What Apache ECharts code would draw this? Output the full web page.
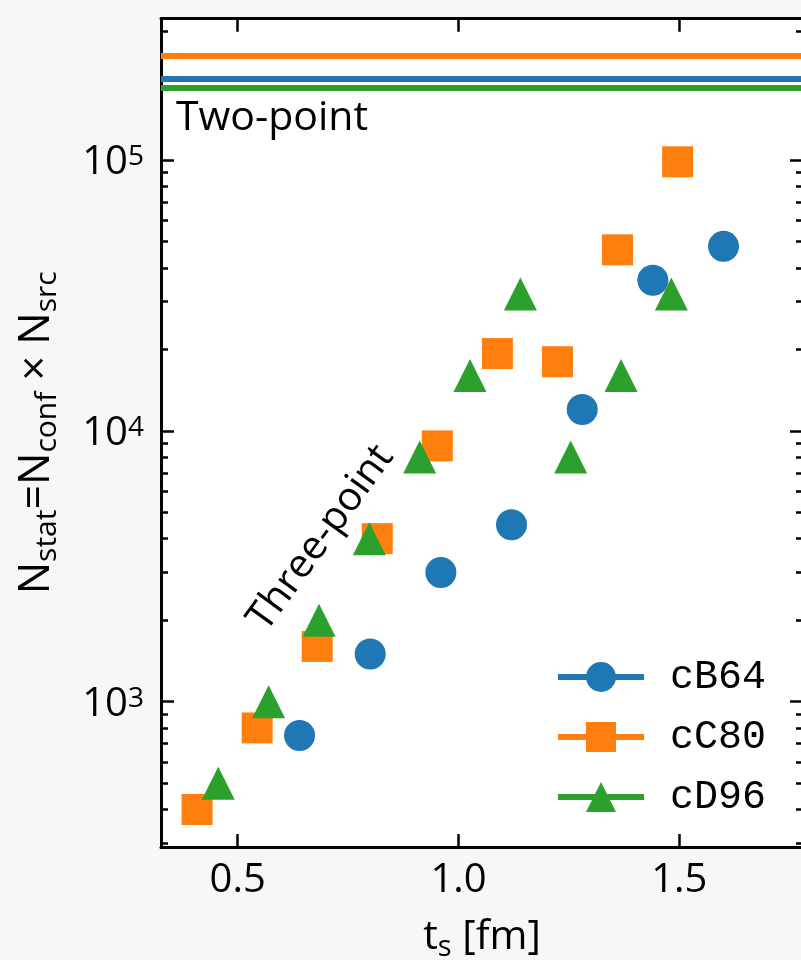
<!DOCTYPE html>
<html>
<head>
<meta charset="utf-8">
<script src="https://cdn.jsdelivr.net/npm/echarts@6/dist/echarts.min.js"></script>
<style>
  html, body { margin: 0; padding: 0; background: #f7f7f7; }
  #chart { width: 801px; height: 960px; }
</style>
</head>
<body>
<div id="chart"></div>
<script>
// Statistics needed per source separation, three ensembles.
const ensembles = ['cB64', 'cC80', 'cD96'];

const tsB64 = [0.64, 0.80, 0.96, 1.12, 1.28, 1.44, 1.60];
const nB64  = [750, 1500, 3000, 4500, 12000, 36000, 48000];

const tsC80 = [0.408, 0.544, 0.68, 0.816, 0.952, 1.088, 1.224, 1.36, 1.496];
const nC80  = [400, 800, 1600, 4000, 8800, 19300, 18000, 46600, 98500];

const tsD96 = [0.456, 0.57, 0.684, 0.798, 0.912, 1.026, 1.14, 1.254, 1.368, 1.482];
const nD96  = [500, 1000, 2000, 4000, 8000, 16000, 32000, 8000, 16000, 32000];

// Two-point statistics, one level per ensemble (cB64, cC80, cD96)
const twoPointN = [199000, 242000, 185000];

const xTicks = [0.5, 1.0, 1.5];
const yMajorTicks = [1e3, 1e4, 1e5];
const yMinorTicks = [300, 400, 500, 600, 700, 800, 900,
                     2000, 3000, 4000, 5000, 6000, 7000, 8000, 9000,
                     20000, 30000, 40000, 50000, 60000, 70000, 80000, 90000,
                     200000, 300000];

const X_MIN = 0.3263, X_MAX = 1.78;
const Y_MIN = 290.8, Y_MAX = 332500;

const colors = ['#1f77b4', '#ff7f0e', '#2ca02c'];
const symbols = ['circle', 'rect', 'triangle'];
const symbolSizes = [31, 31, 33];
const FONT = 'Open Sans';
const MONO = 'Liberation Mono';

const zip = (xs, ys) => xs.map((x, i) => [x, ys[i]]);
const seriesData = [zip(tsB64, nB64), zip(tsC80, nC80), zip(tsD96, nD96)];

const spine = { show: true, lineStyle: { color: '#000', width: 3 } };

function yAxisDef(position, values, len, showLine, showLabel) {
  return {
    type: 'log', logBase: 10, min: Y_MIN, max: Y_MAX, position: position,
    axisLine: showLine ? spine : { show: false },
    axisTick: { show: true, inside: true, length: len, customValues: values,
                lineStyle: { color: '#000', width: 2.5 } },
    axisLabel: showLabel ? {
      show: true, customValues: values, margin: 17,
      formatter: v => '{b|10}{s|' + Math.round(Math.log10(v)) + '}',
      rich: {
        b: { fontFamily: FONT, fontSize: 40, color: '#000', lineHeight: 40,
             padding: [3, 0, 0, 0], verticalAlign: 'top' },
        s: { fontFamily: FONT, fontSize: 28, color: '#000', lineHeight: 23,
             padding: [3, 0, 0, 0], verticalAlign: 'top' }
      }
    } : { show: false },
    splitLine: { show: false },
    minorTick: { show: false }
  };
}

const chart = echarts.init(document.getElementById('chart'), null, { renderer: 'canvas' });

const option = {
  animation: false,
  backgroundColor: '#f7f7f7',
  grid: { left: 161, top: 18.7, width: 642, height: 828.3, show: true,
          backgroundColor: '#ffffff', borderWidth: 0,
          containLabel: false, outerBoundsMode: 'none' },
  xAxis: [
    {
      type: 'value', min: X_MIN, max: X_MAX, position: 'bottom',
      axisLine: spine,
      axisTick: { show: true, inside: true, length: 13, customValues: xTicks,
                  lineStyle: { color: '#000', width: 2.5 } },
      axisLabel: { show: true, customValues: xTicks, margin: 14,
                   formatter: v => v.toFixed(1),
                   fontFamily: FONT, fontSize: 40, color: '#000' },
      splitLine: { show: false },
      name: '{n|t}{s|s}{n| [fm]}',
      nameLocation: 'middle', nameGap: 70,
      nameTextStyle: {
        rich: {
          n: { fontFamily: FONT, fontSize: 41, color: '#000', lineHeight: 41, verticalAlign: 'top' },
          s: { fontFamily: FONT, fontSize: 29, color: '#000', lineHeight: 29, padding: [16, 0, 0, 0], verticalAlign: 'top' }
        }
      }
    },
    {
      type: 'value', min: X_MIN, max: X_MAX, position: 'top',
      axisLine: spine,
      axisTick: { show: true, inside: true, length: 13, customValues: xTicks,
                  lineStyle: { color: '#000', width: 2.5 } },
      axisLabel: { show: false },
      splitLine: { show: false }
    }
  ],
  yAxis: [
    Object.assign(yAxisDef('left', yMajorTicks, 13, true, true), {
      name: '{n|N}{s|stat}{n|=N}{s|conf}{n| × N}{s|src}',
      nameLocation: 'middle', nameRotate: 90, nameGap: 103,
      nameTextStyle: {
        rich: {
          n: { fontFamily: FONT, fontSize: 43, color: '#000', lineHeight: 43, verticalAlign: 'top' },
          s: { fontFamily: FONT, fontSize: 30, color: '#000', lineHeight: 30, padding: [17, 0, 0, 0], verticalAlign: 'top' }
        }
      }
    }),
    yAxisDef('left', yMinorTicks, 7, false, false),
    yAxisDef('right', yMajorTicks, 13, true, false),
    yAxisDef('right', yMinorTicks, 7, false, false)
  ],
  legend: {
    orient: 'vertical', left: 550, top: 652, padding: 5,
    itemWidth: 86, itemHeight: 37.5, itemGap: 20,
    data: ensembles,
    lineStyle: { width: 6, opacity: 1, type: 'solid' },
    textStyle: { fontFamily: MONO, fontSize: 40, color: '#000', padding: [0, 0, 0, 21] },
    selectedMode: false
  },
  graphic: [
    { type: 'text', x: 176, y: 118, z: 10,
      style: { text: 'Two-point', font: '41px "Open Sans"', fill: '#000',
               align: 'left', verticalAlign: 'middle' } },
    { type: 'text', x: 321, y: 538, z: 10, rotation: 54 * Math.PI / 180,
      style: { text: 'Three-point', font: '40px "Open Sans"', fill: '#000',
               align: 'center', verticalAlign: 'middle' } }
  ],
  series: ensembles.map((name, i) => ({
    name: name,
    type: 'line',
    xAxisIndex: 0, yAxisIndex: 0,
    data: seriesData[i],
    symbol: symbols[i],
    symbolSize: symbolSizes[i],
    showSymbol: true,
    lineStyle: { opacity: 0, width: 6 },
    itemStyle: { color: colors[i], borderWidth: 0 },
    emphasis: { disabled: true },
    z: 3 + i,
    markLine: {
      silent: true, symbol: 'none',
      label: { show: false },
      lineStyle: { color: colors[i], width: 6, type: 'solid', opacity: 1 },
      emphasis: { disabled: true },
      data: [{ yAxis: twoPointN[i] }]
    }
  }))
};

chart.setOption(option);
</script>
</body>
</html>
